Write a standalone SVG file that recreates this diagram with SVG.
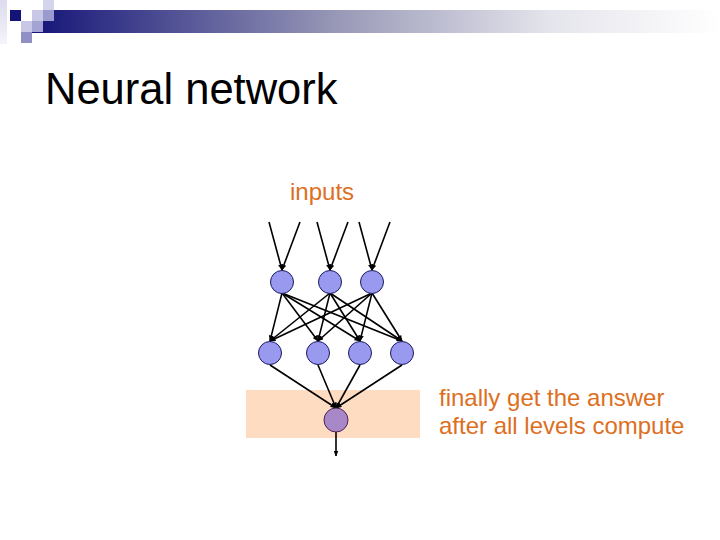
<svg xmlns="http://www.w3.org/2000/svg" width="720" height="540" viewBox="0 0 720 540">
  <defs>
    <linearGradient id="bar" x1="0" y1="0" x2="1" y2="0">
      <stop offset="0" stop-color="#141478"/>
      <stop offset="0.45" stop-color="#9a9ab8"/>
      <stop offset="0.75" stop-color="#e4e4ec"/>
      <stop offset="1" stop-color="#ffffff"/>
    </linearGradient>
    <linearGradient id="strip" x1="0" y1="0" x2="0" y2="1">
      <stop offset="0" stop-color="#dcdcee"/>
      <stop offset="1" stop-color="#f4f4fa"/>
    </linearGradient>
    <marker id="arr" markerUnits="userSpaceOnUse" markerWidth="6" markerHeight="5" refX="5.5" refY="2.5" orient="auto">
      <path d="M0,0 L6,2.5 L0,5 z" fill="#000"/>
    </marker>
  </defs>
  <style>
    .hid { fill: #9999f0; stroke: #1a1a60; stroke-width: 1; }
    .out { fill: #a888c8; stroke: #502050; stroke-width: 1; }
    .edge { stroke: #000; stroke-width: 1.6; fill: none; marker-end: url(#arr); }
    .title { font-family: "Liberation Sans", Arial, sans-serif; font-size: 43.5px; fill: #000; }
    .note { font-family: "Liberation Sans", Arial, sans-serif; font-size: 24px; fill: #dd6f22; }
  </style>

  <g id="header">
    <rect x="0" y="0" width="7" height="44" fill="url(#strip)"/>
    <rect x="32" y="10" width="688" height="23" fill="url(#bar)"/>
    <rect x="10" y="10" width="11" height="11" fill="#141478"/>
    <rect x="32" y="10" width="11" height="11" fill="#c8c8e6"/>
    <rect x="43" y="0" width="11" height="10" fill="#d4d4ec"/>
    <rect x="43" y="10" width="11" height="11" fill="#9a9ace"/>
    <rect x="21" y="21" width="11" height="11" fill="#c8c8e6"/>
    <rect x="21" y="32" width="11" height="11" fill="#9090c4"/>
    <rect x="32" y="21" width="11" height="11" fill="#a4a4d4"/>
  </g>

  <text class="title" x="45" y="104">Neural network</text>

  <rect id="answer-band" x="246" y="390" width="174" height="48" fill="#fddcc2"/>

  <text id="inputs-label" class="note" x="290" y="200">inputs</text>

  <g id="note">
    <text class="note" x="439" y="406">finally get the answer</text>
    <text class="note" x="439" y="434">after all levels compute</text>
  </g>

  <g id="connectors">
    <line class="edge" x1="269" y1="222" x2="282" y2="270"/>
    <line class="edge" x1="300" y1="222" x2="282" y2="270"/>
    <line class="edge" x1="317" y1="222" x2="330" y2="270"/>
    <line class="edge" x1="348" y1="222" x2="330" y2="270"/>
    <line class="edge" x1="359" y1="222" x2="372" y2="270"/>
    <line class="edge" x1="390" y1="222" x2="372" y2="270"/>
    <line class="edge" x1="282" y1="293" x2="270" y2="341"/>
    <line class="edge" x1="282" y1="293" x2="318" y2="341"/>
    <line class="edge" x1="282" y1="293" x2="360" y2="341"/>
    <line class="edge" x1="282" y1="293" x2="402" y2="341"/>
    <line class="edge" x1="330" y1="293" x2="270" y2="341"/>
    <line class="edge" x1="330" y1="293" x2="318" y2="341"/>
    <line class="edge" x1="330" y1="293" x2="360" y2="341"/>
    <line class="edge" x1="330" y1="293" x2="402" y2="341"/>
    <line class="edge" x1="372" y1="293" x2="270" y2="341"/>
    <line class="edge" x1="372" y1="293" x2="318" y2="341"/>
    <line class="edge" x1="372" y1="293" x2="360" y2="341"/>
    <line class="edge" x1="372" y1="293" x2="402" y2="341"/>
    <line class="edge" x1="270" y1="365" x2="336" y2="408"/>
    <line class="edge" x1="318" y1="365" x2="336" y2="408"/>
    <line class="edge" x1="360" y1="365" x2="336" y2="408"/>
    <line class="edge" x1="402" y1="365" x2="336" y2="408"/>
    <line class="edge" x1="336" y1="432" x2="336" y2="456"/>
  </g>

  <g id="h1-1"><circle class="hid" cx="282" cy="282" r="11.5"/></g>
  <g id="h1-2"><circle class="hid" cx="330" cy="282" r="11.5"/></g>
  <g id="h1-3"><circle class="hid" cx="372" cy="282" r="11.5"/></g>
  <g id="h2-1"><circle class="hid" cx="270" cy="353" r="11.5"/></g>
  <g id="h2-2"><circle class="hid" cx="318" cy="353" r="11.5"/></g>
  <g id="h2-3"><circle class="hid" cx="360" cy="353" r="11.5"/></g>
  <g id="h2-4"><circle class="hid" cx="402" cy="353" r="11.5"/></g>
  <g id="output"><circle class="out" cx="336" cy="420" r="12"/></g>
</svg>
